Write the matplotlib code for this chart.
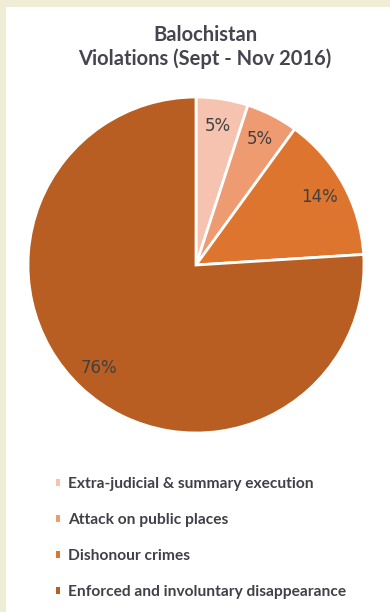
import matplotlib.pyplot as plt
from matplotlib.patches import Rectangle, Patch

labels = ['Extra-judicial & summary execution', 'Attack on public places',
          'Dishonour crimes', 'Enforced and involuntary disappearance']
values = [5, 5, 14, 76]
colors = ['#f5c3b0', '#ef9b72', '#de752e', '#b95e22']

W, H = 390, 612
fig = plt.figure(figsize=(W / 100, H / 100), dpi=100, facecolor='#efedd5')
# white panel inside cream frame
fig.patches.append(Rectangle((6 / W, 0), 1, 1 - 7 / H, transform=fig.transFigure,
                             facecolor='white', edgecolor='none', zorder=-5))

fig.text(205 / W, 1 - 35 / H, 'Balochistan', ha='center', va='center',
         fontsize=14.5, fontweight='bold', family='Lato', color='#454550')
fig.text(205 / W, 1 - 59 / H, 'Violations (Sept - Nov 2016)', ha='center', va='center',
         fontsize=14.5, fontweight='bold', family='Lato', color='#454550')

r = 168
cx, cy = 196, 265
ax = fig.add_axes([(cx - r) / W, (H - cy - r) / H, 2 * r / W, 2 * r / H])
wedges, texts, autotexts = ax.pie(values, colors=colors, startangle=90, counterclock=False,
                                  autopct='%d%%', pctdistance=0.84,
                                  wedgeprops=dict(edgecolor='white', linewidth=2),
                                  textprops=dict(fontsize=12, color='#404040'))
ax.set_xlim(-1, 1)
ax.set_ylim(-1, 1)
ax.set_aspect('equal')
ax.axis('off')

handles = [Patch(facecolor=c, edgecolor='none') for c in colors]
leg = fig.legend(handles, labels, loc='upper left', bbox_to_anchor=(42 / W, 1 - 463 / H),
                 frameon=False, handlelength=0.25, handleheight=0.25, handletextpad=0.5,
                 labelspacing=1.42, prop=dict(family='Lato', weight='bold', size=11.2))
for t in leg.get_texts():
    t.set_color('#404048')

fig.savefig('out.png', dpi=100, facecolor=fig.get_facecolor())
